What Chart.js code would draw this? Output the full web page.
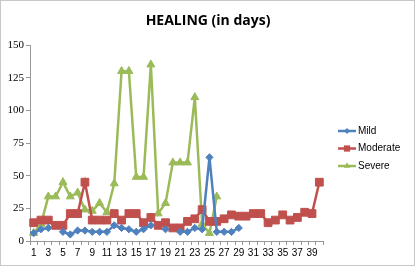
<!DOCTYPE html>
<html>
<head>
<meta charset="utf-8">
<script src="https://cdn.jsdelivr.net/npm/chart.js@4.4.0/dist/chart.umd.min.js"></script>
<style>
  html, body { margin: 0; padding: 0; background: #fff; }
  #wrap { width: 415px; height: 266px; position: relative; }
</style>
</head>
<body>
<div id="wrap"><canvas id="chart"></canvas></div>
<script>
// days 1..40
const days = Array.from({ length: 40 }, (_, i) => String(i + 1));

const mild = [6, 9, 10, null, 7, 5, 8, 8, 7, 7,
    7, 12, 10, 9, 7, 9, 12, null, 9, null,
    7, 7, 10, 9, 64, 7, 7, 7, 10, null,
    null, null, null, null, null, null, null, null, null, null];

const moderate = [14, 16, 16, 12, 12, 21, 21, 45, 16, 16,
    16, 21, 16, 21, 21, 14, 18, 12, 14, 10,
    10, 15, 17, 24, 15, 15, 17, 20, 19, 19,
    21, 21, 14, 16, 20, 16, 18, 22, 21, 45];

const severe = [6, 13, 34, 34, 45, 34, 37, 24, 23, 29,
    22, 44, 130, 130, 49, 49, 135, 21, 29, 60,
    60, 60, 110, 13, 6, 34, null, null, null, null,
    null, null, null, null, null, null, null, null, null, null];

const yTicks = [0, 25, 50, 75, 100, 125, 150];
const chartTitle = 'HEALING (in days)';

const colors = {
    mild: '#4F81BD',
    moderate: '#C0504D',
    severe: '#9BBB59'
};

// white background + thin frame round the whole chart, title centred on the full width
const framePlugin = {
    id: 'frame',
    beforeDraw(chart) {
        const c = chart.ctx;
        c.save();
        c.fillStyle = '#fff';
        c.fillRect(0, 0, chart.width, chart.height);
        c.strokeStyle = '#C8C8C8';
        c.lineWidth = 1;
        c.strokeRect(0.5, 0.5, chart.width - 1, chart.height - 1);
        c.fillStyle = '#000';
        c.font = 'bold 14px "Open Sans", "Liberation Sans", sans-serif';
        c.textAlign = 'center';
        c.textBaseline = 'middle';
        c.fillText(chartTitle, 208, 21);
        c.restore();
    }
};

// excel-like legend: short line with marker, then label
const legendPlugin = {
    id: 'sideLegend',
    afterDraw(chart) {
        const c = chart.ctx;
        const x0 = 338, x1 = 356;
        const mx = (x0 + x1) / 2;
        const rows = [131, 148.5, 166];
        chart.data.datasets.forEach((ds, i) => {
            const y = rows[i];
            c.save();
            c.strokeStyle = ds.borderColor;
            c.lineWidth = 2.5;
            c.beginPath();
            c.moveTo(x0, y);
            c.lineTo(x1, y);
            c.stroke();
            c.fillStyle = ds.borderColor;
            c.beginPath();
            const r = ds.pointRadius * 0.8;
            if (ds.pointStyle === 'rectRot') {
                c.moveTo(mx, y - r); c.lineTo(mx + r, y);
                c.lineTo(mx, y + r); c.lineTo(mx - r, y);
            } else if (ds.pointStyle === 'rect') {
                const s = r * Math.SQRT1_2;
                c.rect(mx - s, y - s, 2 * s, 2 * s);
            } else {
                c.moveTo(mx, y - r);
                c.lineTo(mx + r * 0.87, y + r * 0.5);
                c.lineTo(mx - r * 0.87, y + r * 0.5);
            }
            c.closePath();
            c.fill();
            c.fillStyle = '#000';
            c.font = '10px "Liberation Sans", Arial, sans-serif';
            c.textBaseline = 'middle';
            c.fillText(ds.label, x1 + 2, y);
            c.restore();
        });
    }
};

function series(label, data, color, style, radius) {
    return {
        label: label,
        data: data,
        borderColor: color,
        backgroundColor: color,
        pointBackgroundColor: color,
        pointBorderColor: color,
        pointStyle: style,
        pointRadius: radius,
        pointBorderWidth: 1,
        borderWidth: 2.5,
        tension: 0,
        spanGaps: false
    };
}

new Chart(document.getElementById('chart'), {
    type: 'line',
    data: {
        labels: days,
        datasets: [
            series('Mild', mild, colors.mild, 'rectRot', 3.6),
            series('Moderate', moderate, colors.moderate, 'rect', 5.5),
            series('Severe', severe, colors.severe, 'triangle', 4.6)
        ]
    },
    options: {
        responsive: true,
        maintainAspectRatio: false,
        animation: false,
        layout: {
            padding: { left: 0, right: 92, top: 45, bottom: 0 }
        },
        plugins: {
            legend: { display: false },
            tooltip: { enabled: false },
            title: { display: false }
        },
        scales: {
            x: {
                offset: true,
                grid: {
                    offset: true,
                    drawOnChartArea: false,
                    drawTicks: true,
                    tickLength: 4,
                    color: '#999'
                },
                border: { color: '#999', width: 1 },
                ticks: {
                    autoSkip: false,
                    maxRotation: 0,
                    padding: 2,
                    color: '#000',
                    font: { family: '"Liberation Sans", Arial, sans-serif', size: 10 },
                    callback: (v, i) => (i % 2 === 0 ? days[i] : '')
                },
                afterFit: s => { s.height = 25; }
            },
            y: {
                min: 0,
                max: 150,
                afterBuildTicks: s => { s.ticks = yTicks.map(v => ({ value: v })); },
                grid: {
                    drawOnChartArea: false,
                    drawTicks: true,
                    tickLength: 4,
                    color: '#999'
                },
                border: { color: '#999', width: 1 },
                ticks: {
                    padding: 2,
                    color: '#000',
                    font: { family: '"Liberation Serif", "Times New Roman", serif', size: 11 }
                },
                afterFit: s => { s.width = 30; }
            }
        }
    },
    plugins: [framePlugin, legendPlugin]
});
</script>
</body>
</html>
